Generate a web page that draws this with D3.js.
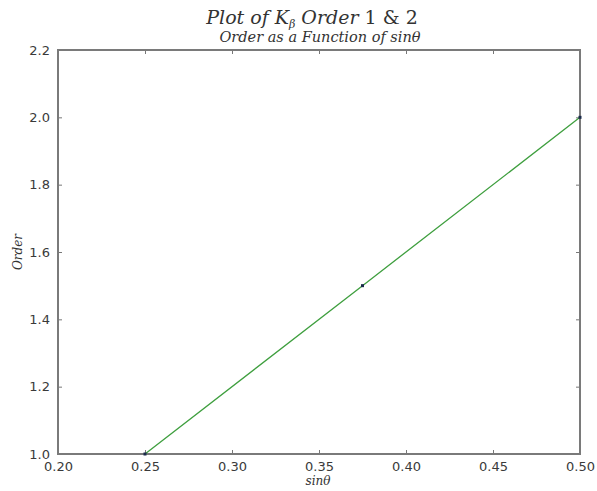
<!DOCTYPE html>
<html>
<head>
<meta charset="utf-8">
<script src="https://cdn.jsdelivr.net/npm/d3@7"></script>
<style>
  body { margin: 0; background: #fff; }
  .tick text { font-family: "DejaVu Sans", sans-serif; font-size: 13px; fill: #3a3a3a; }
  .ttl { font-family: "DejaVu Serif", "Liberation Serif", serif; font-style: italic; fill: #333; }
</style>
</head>
<body>
<svg id="chart" width="597" height="491"></svg>
<script>
// values
const sinTheta = [0.25, 0.375, 0.5];
const order = [1.0, 1.5, 2.0];
const xTicks = [0.20, 0.25, 0.30, 0.35, 0.40, 0.45, 0.50];
const yTicks = [1.0, 1.2, 1.4, 1.6, 1.8, 2.0, 2.2];

const margin = {top: 50, right: 17, bottom: 37, left: 58};
const width = 597 - margin.left - margin.right;
const height = 491 - margin.top - margin.bottom;

const x = d3.scaleLinear().domain([0.2, 0.5]).range([0, width]);
const y = d3.scaleLinear().domain([1.0, 2.2]).range([height, 0]);

const svg = d3.select("#chart");
const g = svg.append("g").attr("transform", "translate(" + margin.left + "," + margin.top + ")");

const pts = sinTheta.map((s, i) => ({x: s, y: order[i]}));

// axes, ticks pointing inward
const xAxis = d3.axisBottom(x).tickValues(xTicks).tickFormat(d3.format(".2f")).tickSizeInner(-4).tickSizeOuter(0).tickPadding(8);
const yAxis = d3.axisLeft(y).tickValues(yTicks).tickFormat(d3.format(".1f")).tickSizeInner(-4).tickSizeOuter(0).tickPadding(8);
const xTop = d3.axisTop(x).tickValues(xTicks).tickFormat("").tickSizeInner(-4).tickSizeOuter(0);
const yRight = d3.axisRight(y).tickValues(yTicks).tickFormat("").tickSizeInner(-4).tickSizeOuter(0);

g.append("g").attr("transform", "translate(0," + height + ")").call(xAxis);
g.append("g").call(yAxis);
g.append("g").call(xTop);
g.append("g").attr("transform", "translate(" + width + ",0)").call(yRight);

g.selectAll(".domain").remove();
g.selectAll(".tick line").attr("stroke", "#777");

// frame
g.append("rect")
    .attr("width", width).attr("height", height)
    .attr("fill", "none").attr("stroke", "#7a7a7a").attr("stroke-width", 2);

// line
g.append("path")
    .datum(pts)
    .attr("fill", "none")
    .attr("stroke", "#3f9f3f")
    .attr("stroke-width", 1.3)
    .attr("d", d3.line().x(d => x(d.x)).y(d => y(d.y)));

// markers
g.selectAll("rect.pt")
    .data(pts)
    .enter().append("rect")
    .attr("class", "pt")
    .attr("x", d => x(d.x) - 1.5)
    .attr("y", d => y(d.y) - 1.5)
    .attr("width", 3)
    .attr("height", 3)
    .attr("fill", "#1a2a4a");

// titles
const title = svg.append("text").attr("class", "ttl")
    .attr("x", 312).attr("y", 24).attr("text-anchor", "middle").style("font-size", "19px");
title.append("tspan").text("Plot of K");
title.append("tspan").attr("dy", 4).style("font-size", "11px").text("β");
title.append("tspan").attr("dy", -4).text(" Order ");
title.append("tspan").style("font-style", "normal").text("1 & 2");

svg.append("text").attr("class", "ttl")
    .attr("x", 320).attr("y", 42).attr("text-anchor", "middle").style("font-size", "14.5px")
    .text("Order as a Function of sinθ");

svg.append("text").attr("class", "ttl")
    .attr("x", 318).attr("y", 485).attr("text-anchor", "middle").style("font-size", "12px")
    .text("sinθ");

svg.append("text").attr("class", "ttl")
    .attr("transform", "translate(22," + (margin.top + height / 2) + ") rotate(-90)")
    .attr("text-anchor", "middle").style("font-size", "12px")
    .text("Order");
</script>
</body>
</html>
